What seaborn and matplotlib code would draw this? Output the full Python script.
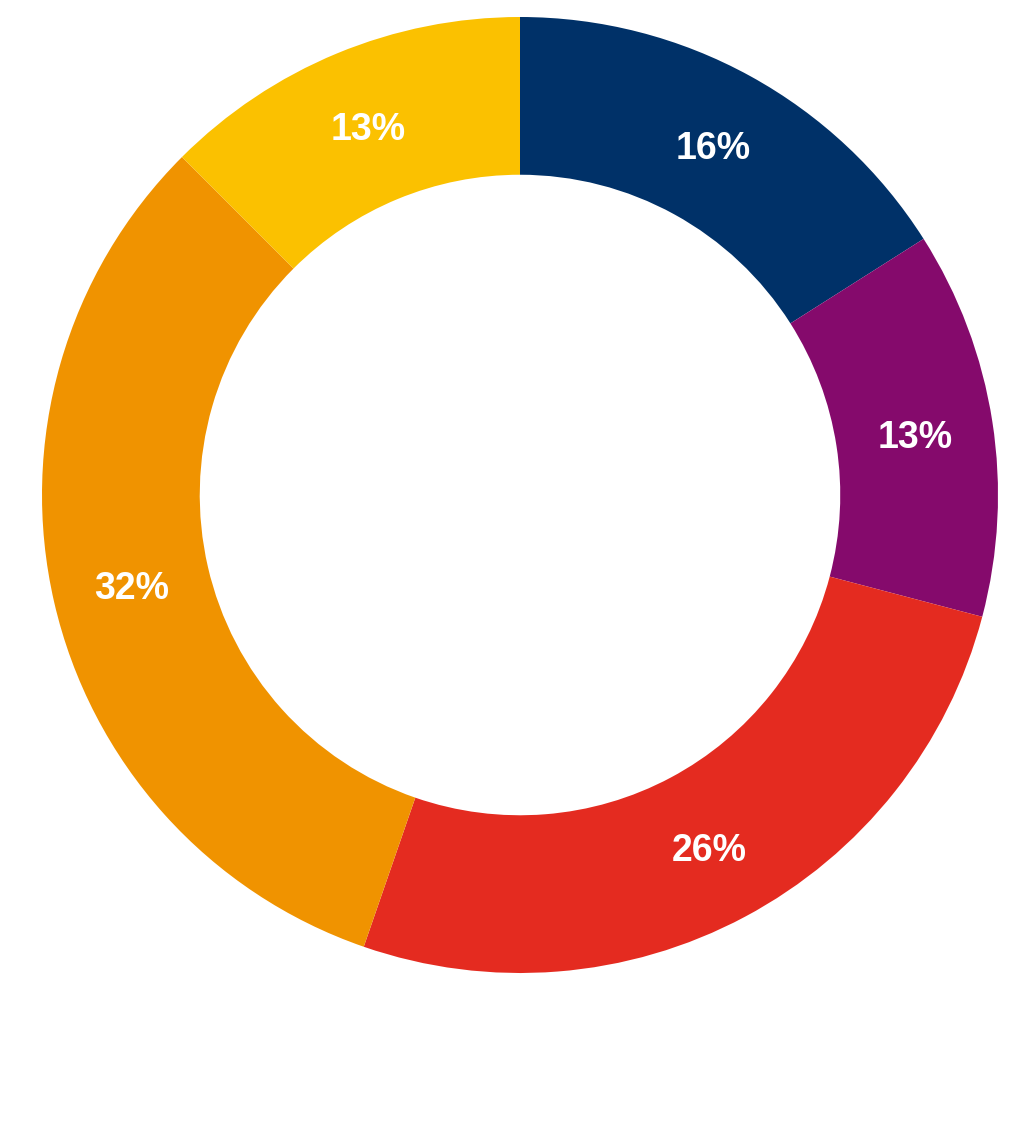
import matplotlib
matplotlib.use("Agg")
import matplotlib.pyplot as plt
import seaborn as sns
import numpy as np

sns.set_theme(style="white")
plt.rcParams['font.family'] = ['Liberation Sans', 'DejaVu Sans']

categories = ["A", "B", "C", "D", "E"]
values = [16.0, 13.1, 26.2, 32.2, 12.5]
labels = ["16%", "13%", "26%", "32%", "13%"]
colors = ["#003168", "#850A6C", "#E42B20", "#F09300", "#FBC100"]

fig = plt.figure(figsize=(10.24, 11.22), dpi=100)
cx, cy, r = 520, 495, 478
ax = fig.add_axes([(cx - r) / 1024, 1 - (cy + r) / 1122, 2 * r / 1024, 2 * r / 1122])

wedges, _ = ax.pie(values, colors=colors, startangle=90, counterclock=False,
                   radius=1.0, wedgeprops=dict(width=0.33, edgecolor="none"))

total = sum(values)
start = 90.0
rmid = 1.0 - 0.33 / 2
for v, lab in zip(values, labels):
    mid = start - v / total * 360 / 2
    x = rmid * np.cos(np.radians(mid))
    y = rmid * np.sin(np.radians(mid))
    ax.annotate(lab, (x, y), xytext=(1, -4), textcoords="offset pixels",
                ha="center", va="center", color="white",
                fontsize=27, fontweight="bold")
    start -= v / total * 360

ax.set_xlim(-1, 1)
ax.set_ylim(-1, 1)
ax.set_aspect("equal")
ax.axis("off")

fig.savefig("out.png", dpi=100, facecolor="white")
